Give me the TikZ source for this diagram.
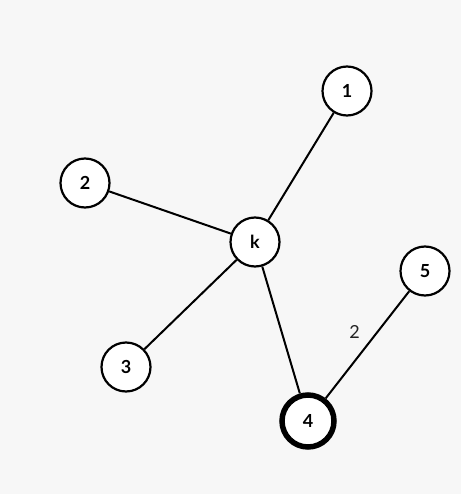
\documentclass[tikz,border=0pt]{standalone}
\usepackage{fontspec}
\setmainfont{Lato}
\definecolor{bg}{HTML}{F7F7F7}
\definecolor{lbl}{HTML}{222222}
\tikzset{
  vert/.style={circle, draw=black, line width=2.2pt, fill=white, minimum size=49pt, inner sep=0pt, font=\fontsize{18}{21}\selectfont\bfseries},
  heavy/.style={vert, line width=5.5pt, minimum size=52pt},
  edge/.style={line width=2pt, black},
  wlabel/.style={font=\fontsize{18}{21}\selectfont, text=lbl}
}
\begin{document}
\begin{tikzpicture}[x=1pt,y=-1pt]
\fill[bg] (0,0) rectangle (461,494);
\useasboundingbox (0,0) rectangle (461,494);
\node[vert] (n1) at (347,91) {1};
\node[vert] (n2) at (85,183) {2};
\node[vert] (k) at (255,242) {k};
\node[vert] (n5) at (425,271) {5};
\node[vert] (n3) at (126,367) {3};
\node[heavy] (n4) at (308,421) {4};
\draw[edge] (k) -- (n1);
\draw[edge] (k) -- (n2);
\draw[edge] (k) -- (n3);
\draw[edge] (k) -- (n4);
\draw[edge] (n4) -- node[wlabel, midway, xshift=-13pt, yshift=13pt] {2} (n5);
\end{tikzpicture}
\end{document}
